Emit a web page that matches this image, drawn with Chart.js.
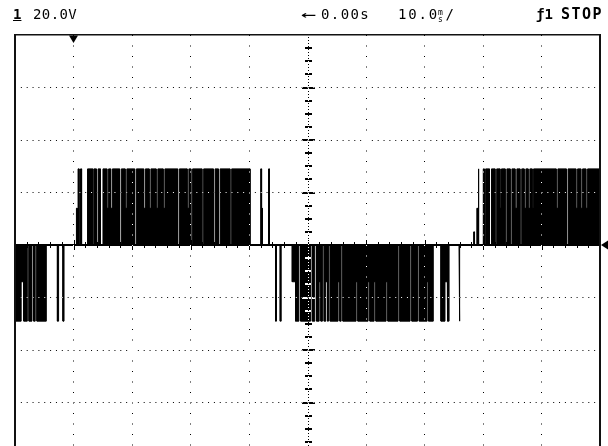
<!DOCTYPE html>
<html>
<head>
<meta charset="utf-8">
<script src="https://cdn.jsdelivr.net/npm/chart.js@4.4.0/dist/chart.umd.min.js"></script>
<style>
  html, body { margin: 0; padding: 0; background: #fff; overflow: hidden; width: 608px; height: 446px; }
  #wrap { position: relative; width: 608px; height: 446px; overflow: hidden; }
  #scope { position: absolute; left: 0; top: 0; }
  .hd { position: absolute; top: 6px; font-family: "DejaVu Sans Mono", monospace; font-size: 14px; line-height: 16px; color: #000; white-space: nowrap; }
  .frac { display: inline-block; vertical-align: -3px; font-size: 8px; line-height: 7px; text-align: center; margin: 0 1px 0 -1px; }
</style>
</head>
<body>
<div id="wrap">
  <canvas id="scope" width="608" height="460"></canvas>
  <div class="hd" style="left:13px;font-weight:bold;text-decoration:underline;">1</div>
  <div class="hd" style="left:33px;letter-spacing:0.4px;">20.0V</div>
  <div class="hd" style="left:301px;transform:scaleX(1.8);transform-origin:left center;">←</div>
  <div class="hd" style="left:321px;letter-spacing:1.4px;">0.00s</div>
  <div class="hd" style="left:398px;letter-spacing:1.8px;">10.0<span class="frac">m<br>s</span>/</div>
  <div class="hd" style="left:536px;font-weight:bold;">ƒ1</div>
  <div class="hd" style="left:561px;font-weight:bold;font-size:15px;letter-spacing:1.5px;">STOP</div>
</div>
<script>
// time in ms (10 ms/div, trigger at centre), volts (20 V/div)
var timeRange = [-50, 50];
var voltRange = [-80, 80];
var timeTicks = [-50, -40, -30, -20, -10, 0, 10, 20, 30, 40, 50];
var voltTicks = [-80, -60, -40, -20, 0, 20, 40, 60, 80];
var trigMarkTime = -40;

// pulses: [start ms, end ms, level V]
var burstA = [
  [-50, -48.95, -29], [-48.95, -48.5, -14], [-48.5, -47.9, -29],
  [-47.6, -47.1, -29], [-46.8, -46.55, -29], [-46.25, -44.65, -29],
  [-42.75, -42.55, -29], [-41.8, -41.62, -29]
];
var burstB = [
  [-39.5, -39.35, 14], [-39.22, -39.05, 29], [-38.8, -38.62, 29],
  [-37.6, -36.7, 29], [-36.5, -36.1, 29], [-35.8, -35.4, 29],
  [-34.96, -34.3, 29], [-34.3, -34.0, 14], [-34.0, -33.65, 29], [-33.65, -33.35, 14],
  [-33.35, -32.12, 29], [-31.82, -31.18, 29], [-31.18, -30.88, 14], [-30.88, -29.55, 29],
  [-29.25, -28.01, 29], [-28.01, -27.71, 14], [-27.71, -27.07, 29], [-27.07, -26.77, 14],
  [-26.77, -25.88, 29], [-25.88, -25.58, 14], [-25.58, -24.68, 29], [-24.68, -24.38, 14],
  [-24.38, -22.2, 29], [-21.9, -20.58, 29], [-20.58, -20.28, 14], [-20.28, -19.94, 29],
  [-19.64, -18.05, 29], [-17.75, -16.1, 29], [-15.8, -15.24, 29], [-14.94, -13.26, 29],
  [-12.96, -9.83, 29],
  [-8.1, -7.98, 14], [-7.98, -7.85, 29], [-7.85, -7.72, 14], [-6.66, -6.5, 29]
];
var burstC = [
  [-5.46, -5.3, -29], [-4.66, -4.5, -29], [-2.6, -2.05, -14],
  [-2.05, -1.47, -29], [-1.17, 0.53, -29], [0.83, 1.25, -29], [1.55, 1.99, -29],
  [1.99, 2.29, -14], [2.29, 2.55, -29], [2.85, 3.13, -29], [3.13, 3.43, -14], [3.43, 3.58, -29],
  [3.88, 5.23, -29], [5.23, 5.53, -14], [5.53, 5.75, -29], [6.05, 8.31, -29], [8.31, 8.61, -14],
  [8.61, 10.36, -29], [10.36, 10.66, -14], [10.66, 11.39, -29], [11.39, 11.69, -14],
  [11.69, 13.44, -29], [13.44, 13.74, -14], [13.74, 15.49, -29],
  [15.79, 17.54, -29], [17.84, 18.8, -29], [19.1, 20.45, -29], [20.45, 20.7, -14],
  [20.7, 21.5, -29], [22.82, 23.5, -29], [23.5, 23.9, -14], [23.95, 24.2, -29],
  [25.9, 26.06, -29]
];
var burstD = [
  [28.4, 28.55, 5], [28.95, 29.1, 14], [29.15, 29.3, 29], [30.05, 30.22, 29],
  [30.45, 31.1, 29], [31.45, 32.05, 29], [32.34, 32.91, 29], [32.91, 33.16, 14],
  [33.16, 33.78, 29], [34.08, 34.64, 29], [34.94, 35.47, 29], [35.47, 35.79, 14],
  [35.79, 36.32, 29], [36.62, 37.03, 29], [37.03, 37.33, 14], [37.33, 37.71, 29],
  [37.71, 38.01, 14], [38.01, 38.4, 29], [38.4, 38.65, 14], [38.65, 42.5, 29],
  [42.5, 42.8, 14], [42.8, 44.24, 29], [44.54, 45.87, 29], [45.87, 46.17, 14],
  [46.17, 46.72, 29], [46.72, 47.02, 14], [47.02, 47.58, 29], [47.58, 47.88, 14],
  [47.88, 50, 29]
];

// turn pulse list into a trace that sits at 0 V between pulses
var pulses = burstA.concat(burstB, burstC, burstD).sort(function(p, q) { return p[0] - q[0]; });
var trace = [];
pulses.forEach(function(p) {
  trace.push({x: p[0], y: 0}, {x: p[0], y: p[2]}, {x: p[1], y: p[2]}, {x: p[1], y: 0});
});

var scopeDecor = {
  id: 'scopeDecor',
  beforeDraw: function(chart) {
    var c = chart.ctx;
    c.save();
    c.fillStyle = '#fff';
    c.fillRect(0, 0, chart.width, chart.height);
    c.restore();
  },
  beforeDatasetsDraw: function(chart) {
    // centre horizontal axis with its small ticks
    var c = chart.ctx, xs = chart.scales.x, ys = chart.scales.y, a = chart.chartArea;
    var y0 = Math.round(ys.getPixelForValue(0));
    c.save();
    c.fillStyle = '#000';
    c.fillRect(a.left, y0 - 1, a.right - a.left, 2);
    for (var t = timeRange[0]; t <= timeRange[1]; t += 2) {
      var px = Math.round(xs.getPixelForValue(t));
      var h = (t % 10 === 0) ? 5 : 3;
      c.fillRect(px, y0 - h, 1, 2 * h);
    }
    c.restore();
  },
  afterDatasetsDraw: function(chart) {
    // centre vertical axis, drawn as XOR like the scope does
    var c = chart.ctx, xs = chart.scales.x, ys = chart.scales.y, a = chart.chartArea;
    var x0 = Math.round(xs.getPixelForValue(0));
    c.globalCompositeOperation = 'difference';
    c.save();
    c.fillStyle = '#fff';
    for (var py = a.top + 2; py < a.bottom; py += 3) c.fillRect(x0, py, 1, 1);
    for (var v = voltRange[0] + 5; v < voltRange[1]; v += 5) {
      if (v === 0) continue;
      var py2 = Math.round(ys.getPixelForValue(v));
      var w = (v % 20 === 0) ? 6 : 3;
      c.fillRect(x0 - w, py2 - 1, 2 * w + 1, 2);
    }
    c.restore();
  },
  afterDraw: function(chart) {
    var c = chart.ctx, xs = chart.scales.x, ys = chart.scales.y, a = chart.chartArea;
    c.globalCompositeOperation = 'source-over';
    c.save();
    c.fillStyle = '#111';
    c.fillRect(a.left - 1, a.top - 1, 2, a.bottom - a.top + 2);
    c.fillRect(a.left - 1, a.top - 1, a.right - a.left + 2, 1.5);
    c.fillRect(a.right - 1, a.top - 1, 2, a.bottom - a.top + 2);
    // trigger position marker
    var tx = xs.getPixelForValue(trigMarkTime);
    c.fillStyle = '#000';
    c.beginPath();
    c.moveTo(tx - 4.5, a.top + 0.5);
    c.lineTo(tx + 4.5, a.top + 0.5);
    c.lineTo(tx, a.top + 8);
    c.closePath();
    c.fill();
    // trigger level marker
    var ly = ys.getPixelForValue(0);
    c.beginPath();
    c.moveTo(a.right + 1, ly);
    c.lineTo(a.right + 8, ly - 4.5);
    c.lineTo(a.right + 8, ly + 4.5);
    c.closePath();
    c.fill();
    c.restore();
  }
};

function gridColor(ctx) {
  var v = ctx.tick ? ctx.tick.value : 0;
  var hidden = v === 0 || v === timeRange[0] || v === timeRange[1] || v === voltRange[0] || v === voltRange[1];
  return hidden ? 'rgba(0,0,0,0)' : '#fff';
}

var chart = new Chart(document.getElementById('scope'), {
  type: 'line',
  data: {
    datasets: [{
      label: 'CH1',
      data: trace,
      borderColor: '#000',
      backgroundColor: '#000',
      borderWidth: 1,
      pointRadius: 0,
      tension: 0,
      fill: 'origin'
    }]
  },
  options: {
    responsive: false,
    animation: false,
    events: [],
    layout: { padding: { left: 15, right: 8, top: 35, bottom: 5 } },
    plugins: { legend: { display: false }, tooltip: { enabled: false } },
    scales: {
      x: {
        type: 'linear',
        min: timeRange[0],
        max: timeRange[1],
        afterBuildTicks: function(s) { s.ticks = timeTicks.map(function(v) { return {value: v}; }); },
        ticks: { display: false },
        grid: { color: gridColor, lineWidth: 1, drawTicks: false, z: 1 },
        border: { display: false, dash: [1, 9.5] }
      },
      y: {
        type: 'linear',
        min: voltRange[0],
        max: voltRange[1],
        afterBuildTicks: function(s) { s.ticks = voltTicks.map(function(v) { return {value: v}; }); },
        ticks: { display: false },
        grid: { color: gridColor, lineWidth: 1, drawTicks: false, z: 1 },
        border: { display: false, dash: [1, 4.85] }
      }
    }
  },
  plugins: [scopeDecor]
});
</script>
</body>
</html>
